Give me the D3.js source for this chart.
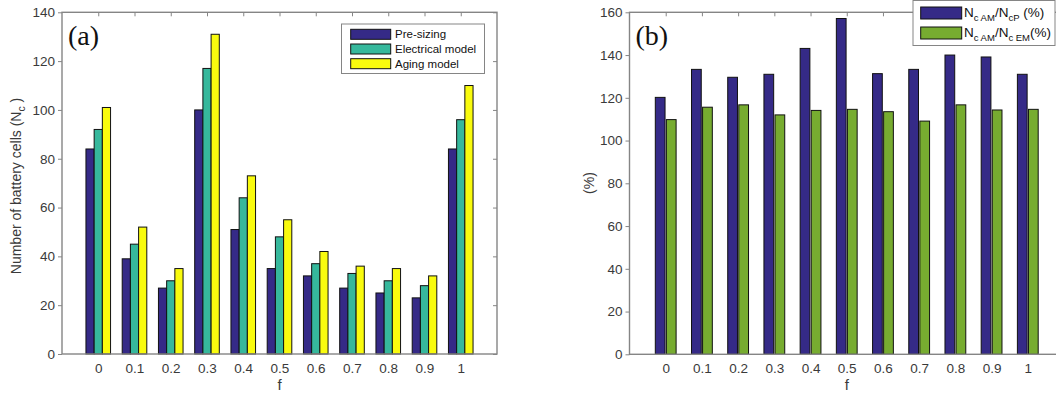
<!DOCTYPE html>
<html><head><meta charset="utf-8">
<script src="https://cdn.jsdelivr.net/npm/d3@7"></script>
<style>body{margin:0;background:#fff}svg{display:block;font-family:"Liberation Sans",Arial,sans-serif}</style>
</head><body><svg id="c" width="1056" height="396"></svg>
<script>
const categories = ["0","0.1","0.2","0.3","0.4","0.5","0.6","0.7","0.8","0.9","1"];
const preSizing  = [84, 39, 27, 100, 51, 35, 32, 27, 25, 23, 84];
const electrical = [92, 45, 30, 117, 64, 48, 37, 33, 30, 28, 96];
const aging      = [101, 52, 35, 131, 73, 55, 42, 36, 35, 32, 110];
const ratioP     = [120.2, 133.3, 129.6, 131, 143.1, 157.1, 131.3, 133.3, 140, 139.1, 131];
const ratioEM    = [109.8, 115.6, 116.7, 112, 114.1, 114.6, 113.5, 109.1, 116.7, 114.3, 114.6];
const ticksA = [0,20,40,60,80,100,120,140];
const ticksB = [0,20,40,60,80,100,120,140,160];
const seriesA = [
  {name:"Pre-sizing", values:preSizing, color:"#352a87"},
  {name:"Electrical model", values:electrical, color:"#36b89c"},
  {name:"Aging model", values:aging, color:"#f9fb0e"}];
const seriesB = [
  {name:"P", values:ratioP, color:"#352a87"},
  {name:"EM", values:ratioEM, color:"#77ac30"}];

const svg = d3.select("#c");
const axisCol = "#858585", txtCol = "#3a3a3a";
const FF = "'Liberation Sans', Arial, sans-serif";

function panel(o){
  const x = d3.scalePoint().domain(categories).range([o.x0,o.x1]).padding(1);
  const y = d3.scaleLinear().domain(o.ydom).range([o.y0,o.y1]);
  const sub = d3.scaleBand().domain(o.series.map(s=>s.name)).range([-o.gw/2,o.gw/2]).paddingInner(o.pad);
  const g = svg.append("g");
  o.series.forEach(s=>{
    g.append("g").selectAll("rect").data(s.values).join("rect")
      .attr("x",(d,i)=>x(categories[i])+sub(s.name))
      .attr("width",sub.bandwidth())
      .attr("y",d=>y(d)).attr("height",d=>y(0)-y(d))
      .attr("fill",s.color).attr("stroke","#111").attr("stroke-width",1);
  });
  g.append("rect").attr("x",o.x0).attr("y",o.y1).attr("width",o.x1-o.x0).attr("height",o.y0-o.y1)
    .attr("fill","none").attr("stroke",axisCol).attr("stroke-width",1.4);
  const ya = g.append("g").attr("transform",`translate(${o.x0},0)`)
    .call(d3.axisLeft(y).tickValues(o.yticks).tickSize(4).tickPadding(3));
  ya.attr("font-family",FF);
  ya.select(".domain").remove();
  ya.selectAll("line").attr("stroke",axisCol);
  ya.selectAll("text").attr("fill",txtCol).attr("font-size",13.5);
  const yr = g.append("g").attr("transform",`translate(${o.x1},0)`)
    .call(d3.axisLeft(y).tickValues(o.yticks).tickSize(4).tickFormat(""));
  yr.select(".domain").remove(); yr.selectAll("line").attr("stroke",axisCol);
  const xa = g.append("g").attr("transform",`translate(0,${o.y0})`)
    .call(d3.axisBottom(x).tickSize(0).tickPadding(9));
  xa.attr("font-family",FF);
  xa.select(".domain").remove();
  xa.selectAll("text").attr("fill",txtCol).attr("font-size",13.5);
  const xt = g.append("g").attr("transform",`translate(0,${o.y1})`)
    .call(d3.axisBottom(x).tickSize(4).tickFormat(""));
  xt.select(".domain").remove(); xt.selectAll("line").attr("stroke",axisCol);
  g.append("text").attr("x",(o.x0+o.x1)/2).attr("y",390).attr("text-anchor","middle")
    .attr("font-size",15).attr("fill",txtCol).text("f");
  g.append("text").attr("x",o.x0+6).attr("y",45).attr("font-family","'Liberation Serif', 'Times New Roman', serif")
    .attr("font-size",28).attr("fill","#111").text(o.letter);
  return {x,y,g};
}

const A = panel({x0:62,x1:497,y0:354,y1:12.3,ydom:[0,140],yticks:ticksA,series:seriesA,gw:24.6,pad:0,letter:"(a)"});
const B = panel({x0:629.5,x1:1064,y0:354.3,y1:12.3,ydom:[0,160],yticks:ticksB,series:seriesB,gw:20.8,pad:0.12,letter:"(b)"});

const yl = svg.append("text").attr("transform","translate(21,186) rotate(-90)").attr("text-anchor","middle")
  .attr("font-size",14).attr("fill",txtCol);
yl.append("tspan").text("Number of battery cells (N");
yl.append("tspan").attr("font-size",10.5).attr("dy",4).text("c");
yl.append("tspan").attr("dy",-4).text(" )");
svg.append("text").attr("transform","translate(594,183) rotate(-90)").attr("text-anchor","middle")
  .attr("font-size",14).attr("fill",txtCol).text("(%)");

const la = svg.append("g");
la.append("rect").attr("x",341.5).attr("y",24).attr("width",143).attr("height",49.5)
  .attr("fill","#fff").attr("stroke",axisCol).attr("stroke-width",1);
seriesA.forEach((s,i)=>{
  const cy = 34.3 + i*14.7;
  la.append("rect").attr("x",350.7).attr("y",cy-5).attr("width",40).attr("height",10)
    .attr("fill",s.color).attr("stroke","#111").attr("stroke-width",1);
  la.append("text").attr("x",395).attr("y",cy+4).attr("font-size",11.5).attr("fill","#111").text(s.name);
});

const lb = svg.append("g");
lb.append("rect").attr("x",913).attr("y",0.5).attr("width",142).attr("height",45)
  .attr("fill","#fff").attr("stroke",axisCol).attr("stroke-width",1);
const labB = [
  [["N",0],["c AM",1],["/N",0],["cP",1],[" (%)",0]],
  [["N",0],["c AM",1],["/N",0],["c EM",1],["(%)",0]]];
seriesB.forEach((s,i)=>{
  const cy = 13 + i*20;
  lb.append("rect").attr("x",920.7).attr("y",cy-6).attr("width",41).attr("height",12)
    .attr("fill",s.color).attr("stroke","#111").attr("stroke-width",1);
  const t = lb.append("text").attr("x",964).attr("y",cy+4).attr("font-size",13.5).attr("fill","#111");
  let prev = 0;
  labB[i].forEach(([str,isSub])=>{
    const dy = (isSub?4:0) - (prev?4:0);
    t.append("tspan").attr("dy",dy).attr("font-size",isSub?9.5:13.5).text(str);
    prev = isSub;
  });
});
</script></body></html>
